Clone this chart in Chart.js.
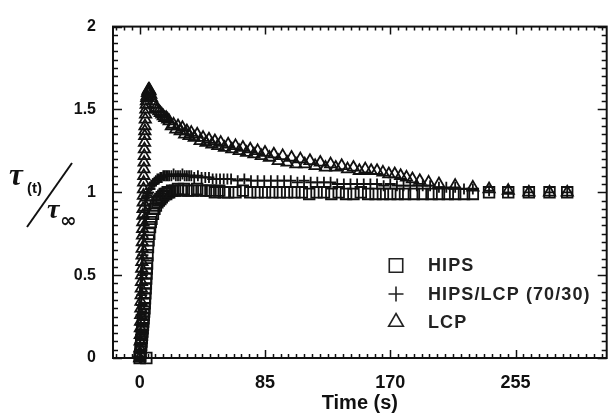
<!DOCTYPE html>
<html>
<head>
<meta charset="utf-8">
<script src="https://cdn.jsdelivr.net/npm/chart.js@4.4.1/dist/chart.umd.min.js"></script>
<style>
  html, body { margin: 0; padding: 0; background: #fff; }
</style>
</head>
<body>
<canvas id="chart" width="616" height="415"></canvas>
<script>
// series names
const seriesNames = ['HIPS', 'HIPS/LCP (70/30)', 'LCP'];

// HIPS (squares)
const tHIPS = [0, 4.5, 0.2, 0.4, 0.6, 0.8, 1.0, 1.2, 1.4, 1.6, 1.8, 2.0, 2.2, 2.4, 2.6, 2.8, 3.0, 3.2, 3.4, 3.6, 3.8, 4.0, 4.2, 4.4, 4.6, 4.8, 5.0,
  5.3, 5.6, 6.0, 6.5, 7.0, 7.5, 8.0,
  9, 10, 11, 12, 13, 14, 15, 16, 17, 18, 19, 20,
  22, 24, 26, 28, 30,
  33, 36, 39, 42, 45, 48, 51, 54, 57, 60,
  65, 70, 75, 80, 85, 90, 95, 100, 105, 110, 115, 120, 125, 130, 135, 140, 145, 150, 155, 160, 165, 170, 175, 180,
  186, 192, 198, 203, 209, 214, 220, 226,
  237, 250, 264, 278, 290];
const vHIPS = [0, 0, 0.01, 0.02, 0.04, 0.06, 0.08, 0.1, 0.12, 0.14, 0.16, 0.18, 0.2, 0.22, 0.24, 0.26, 0.28, 0.3, 0.33, 0.36, 0.39, 0.42, 0.45, 0.48, 0.51, 0.54, 0.57,
  0.62, 0.67, 0.71, 0.75, 0.79, 0.82, 0.84,
  0.87, 0.9, 0.92, 0.94, 0.95, 0.96, 0.97, 0.98, 0.99, 0.99, 1.0, 1.0,
  1.01, 1.01, 1.02, 1.01, 1.02,
  1.01, 1.01, 1.02, 1.01, 1.01, 1.01, 1.0, 1.01, 1.0, 1.0,
  1.0, 1.01, 1.0, 1.0, 1.0, 1.0, 1.0, 1.0, 1.0, 1.0, 0.99, 1.0, 1.0, 0.99, 1.0, 0.99, 0.99, 1.0, 0.99, 0.99, 0.99, 0.99, 0.99, 0.99,
  0.99, 0.99, 0.99, 0.99, 0.99, 0.99, 0.99, 0.99,
  1.0, 1.0, 1.0, 1.0, 1.0];

// HIPS/LCP 70/30 (plus)
const tMix = [0, 0.2, 0.4, 0.6, 0.8, 1.0, 1.2, 1.4, 1.6, 1.8, 2.0, 2.2, 2.4, 2.6, 2.8, 3.0,
  3.3, 3.6, 4.0, 4.5, 5.0, 5.5, 6.0,
  7, 8, 9, 10, 11, 12, 13, 14, 15, 16, 17, 18, 19, 20,
  21.5, 23, 24.5, 26, 27.5, 29, 30.5, 32, 33.5, 35,
  37, 39.5, 42, 44.5, 47, 49.5, 52, 54.5, 57, 59.5, 62,
  66.5, 71, 75.5, 80, 84.5, 89, 93.5, 98, 102.5, 107, 111.5, 116, 120.5, 125, 129.5,
  134, 138.5, 143, 147.5, 152, 156.5, 161, 165.5, 170, 174.5, 179, 183.5, 188,
  192, 197, 203, 208, 214, 220, 226,
  237, 250, 264, 278, 290];
const vMix = [0, 0.04, 0.09, 0.14, 0.2, 0.26, 0.32, 0.38, 0.44, 0.5, 0.56, 0.62, 0.68, 0.74, 0.8, 0.85,
  0.89, 0.92, 0.95, 0.97, 0.98, 0.99, 1.0,
  1.02, 1.04, 1.05, 1.06, 1.07, 1.08, 1.08, 1.09, 1.09, 1.1, 1.1, 1.1, 1.1, 1.1,
  1.1, 1.11, 1.1, 1.1, 1.1, 1.11, 1.1, 1.1, 1.1, 1.1,
  1.09, 1.1, 1.09, 1.09, 1.09, 1.08, 1.08, 1.08, 1.08, 1.08, 1.08,
  1.07, 1.08, 1.07, 1.07, 1.07, 1.07, 1.07, 1.07, 1.07, 1.06, 1.07, 1.06, 1.06, 1.06, 1.06,
  1.05, 1.05, 1.05, 1.05, 1.05, 1.05, 1.05, 1.04, 1.05, 1.04, 1.04, 1.04, 1.04,
  1.04, 1.04, 1.03, 1.03, 1.03, 1.02, 1.02,
  1.01, 1.0, 1.0, 1.0, 1.0];

// LCP (triangles)
const tLCP = [0, 0.1, 0.2, 0.3, 0.4, 0.5, 0.6, 0.7, 0.8, 0.9, 1.0, 1.1, 1.2, 1.3, 1.4, 1.5, 1.6, 1.7, 1.8, 1.9,
  2.0, 2.1, 2.2, 2.3, 2.4, 2.5, 2.6, 2.7, 2.8, 2.9, 3.0, 3.1, 3.2, 3.3, 3.4, 3.5, 3.6,
  3.8, 4.0, 4.2, 4.4, 4.6, 4.8, 5.0,
  5.3, 5.6, 6.0, 6.5, 7.0, 7.5, 8,
  9, 10, 11, 12, 13, 14, 15, 16, 17, 18, 19,
  20, 21.5, 23, 24.5, 26, 27.5, 29, 30.5, 32, 33.5, 35,
  37, 39, 41, 43, 45, 47, 49, 51, 53, 55,
  57.5, 60, 62.5, 65, 67.5, 70, 72.5, 75, 77.5, 80, 82.5, 85,
  88, 91, 94, 97, 100, 103, 106, 109, 112,
  115.5, 119, 122.5, 126, 129.5, 133,
  137, 141, 145, 149, 153, 157, 161, 165, 169, 173, 177, 181, 185,
  190, 196, 203, 214, 226, 237, 250, 264, 278, 290];
const vLCP = [0.0, 0.03, 0.06, 0.1, 0.14, 0.18, 0.22, 0.26, 0.3, 0.34, 0.38, 0.42, 0.46, 0.5, 0.54, 0.58, 0.62, 0.66, 0.7, 0.74,
  0.78, 0.82, 0.86, 0.9, 0.94, 0.98, 1.02, 1.06, 1.1, 1.14, 1.18, 1.22, 1.26, 1.3, 1.34, 1.37, 1.4,
  1.44, 1.47, 1.5, 1.53, 1.55, 1.57, 1.58,
  1.6, 1.61, 1.62, 1.62, 1.61, 1.59, 1.57,
  1.55, 1.53, 1.51, 1.5, 1.49, 1.48, 1.47, 1.46, 1.45, 1.45, 1.44,
  1.43, 1.40, 1.41, 1.38, 1.40, 1.37, 1.39, 1.35, 1.37, 1.34, 1.36,
  1.33, 1.35, 1.31, 1.33, 1.30, 1.32, 1.29, 1.31, 1.28, 1.30,
  1.27, 1.29, 1.26, 1.28, 1.25, 1.27, 1.24, 1.26, 1.23, 1.25, 1.22, 1.24,
  1.21, 1.23, 1.19, 1.22, 1.18, 1.21, 1.17, 1.2, 1.17,
  1.19, 1.16, 1.18, 1.15, 1.17, 1.15,
  1.16, 1.14, 1.15, 1.13, 1.14, 1.13, 1.13, 1.12, 1.11, 1.11, 1.1, 1.09, 1.08,
  1.07, 1.06, 1.05, 1.04, 1.03, 1.02, 1.01, 1.0, 1.0, 1.0];

const xTickLabels = [0, 85, 170, 255];
const yTickLabels = [0, 0.5, 1, 1.5, 2];

function toPoints(ts, vs, name) {
  if (ts.length !== vs.length) throw new Error(name + ' length mismatch ' + ts.length + ' vs ' + vs.length);
  return ts.map((t, i) => ({ x: t, y: vs[i] }));
}

const ink = '#111';

const frameTicks = {
  id: 'frameTicks',
  afterDatasetsDraw(chart) {
    const { ctx, chartArea: a, scales: { x, y } } = chart;
    ctx.save();
    ctx.strokeStyle = ink;
    ctx.lineWidth = 1.5;
    ctx.beginPath();
    const xStep = 85 / 16;
    for (let i = -4; i <= 64; i++) {
      const v = i * xStep;
      if (v < x.min || v > x.max) continue;
      const px = Math.round(x.getPixelForValue(v)) + 0.5;
      const len = i % 16 === 0 ? 8 : 4;
      ctx.moveTo(px, a.bottom); ctx.lineTo(px, a.bottom - len);
      ctx.moveTo(px, a.top); ctx.lineTo(px, a.top + len);
    }
    for (let i = 0; i <= 40; i++) {
      const py = Math.round(y.getPixelForValue(i * 0.05)) + 0.5;
      const len = i % 10 === 0 ? 9 : 5;
      ctx.moveTo(a.left, py); ctx.lineTo(a.left + len, py);
      ctx.moveTo(a.right, py); ctx.lineTo(a.right - len, py);
    }
    ctx.stroke();
    ctx.lineWidth = 2;
    ctx.strokeRect(a.left, a.top, a.right - a.left, a.bottom - a.top);
    ctx.restore();
  },
  afterDraw(chart) {
    const ctx = chart.ctx;
    ctx.save();
    // legend
    const styles = [
      { pointStyle: 'rect', radius: 9.5 },
      { pointStyle: 'cross', radius: 7.5 },
      { pointStyle: 'triangle', radius: 8.5 }
    ];
    const rows = [265.5, 294, 322];
    ctx.strokeStyle = '#222';
    ctx.fillStyle = 'rgba(0,0,0,0)';
    ctx.lineWidth = 1.6;
    styles.forEach((s, i) => {
      ctx.beginPath();
      Chart.helpers.drawPoint(ctx, { pointStyle: s.pointStyle, radius: s.radius, rotation: 0, borderWidth: 1.6 }, 396, rows[i]);
    });
    ctx.fillStyle = '#222';
    ctx.font = "bold 18px 'Liberation Sans', Arial, sans-serif";
    ctx.letterSpacing = '1.1px';
    ctx.textBaseline = 'middle';
    ctx.textAlign = 'left';
    seriesNames.forEach((n, i) => ctx.fillText(n, 428, rows[i] + 1));
    ctx.letterSpacing = '0px';

    // y axis title: tau(t) / tau_inf
    ctx.fillStyle = ink;
    ctx.textBaseline = 'alphabetic';
    ctx.font = "italic bold 31px 'Liberation Serif', serif";
    ctx.fillText('\u03C4', 9, 185);
    ctx.font = "bold 15px 'Liberation Sans', Arial, sans-serif";
    ctx.fillText('(t)', 27, 193);
    ctx.font = "italic bold 28px 'Liberation Serif', serif";
    ctx.fillText('\u03C4', 47, 218);
    ctx.font = "bold 20px 'DejaVu Sans', sans-serif";
    ctx.fillText('\u221E', 60, 227);
    ctx.strokeStyle = ink;
    ctx.lineWidth = 2;
    ctx.beginPath();
    ctx.moveTo(27, 227);
    ctx.lineTo(72, 163);
    ctx.stroke();
    ctx.restore();
  }
};

const markerBase = {
  showLine: false,
  borderColor: ink,
  backgroundColor: 'rgba(0,0,0,0)',
  pointBorderWidth: 1.8,
  clip: false
};

new Chart(document.getElementById('chart').getContext('2d'), {
  type: 'scatter',
  data: {
    datasets: [
      Object.assign({ label: seriesNames[0], data: toPoints(tHIPS, vHIPS, 'HIPS'), pointStyle: 'rect', pointRadius: 7.5 }, markerBase),
      Object.assign({ label: seriesNames[1], data: toPoints(tMix, vMix, 'Mix'), pointStyle: 'cross', pointRadius: 5.5 }, markerBase),
      Object.assign({ label: seriesNames[2], data: toPoints(tLCP, vLCP, 'LCP'), pointStyle: 'triangle', pointRadius: 6.5 }, markerBase)
    ]
  },
  options: {
    responsive: false,
    animation: false,
    layout: { padding: { top: 20, right: 4, left: 0, bottom: 0 } },
    plugins: { legend: { display: false }, tooltip: { enabled: false } },
    scales: {
      x: {
        type: 'linear',
        min: -18.1,
        max: 316.8,
        afterBuildTicks: s => { s.ticks = xTickLabels.map(v => ({ value: v })); },
        afterFit: s => { s.height = 57; },
        grid: { display: false, drawTicks: false },
        border: { display: false },
        ticks: {
          padding: 14, color: ink, maxRotation: 0, autoSkip: false,
          font: { family: "'Liberation Sans', Arial, sans-serif", size: 18, weight: 'bold' },
          callback: v => String(v)
        },
        title: {
          display: true, text: 'Time (s)', color: ink,
          font: { family: "'Liberation Sans', Arial, sans-serif", size: 20, weight: 'bold' },
          padding: { top: 0, bottom: 0 }
        }
      },
      y: {
        type: 'linear',
        min: 0,
        max: 2,
        afterBuildTicks: s => { s.ticks = yTickLabels.map(v => ({ value: v })); },
        afterFit: s => { s.width = 113; },
        grid: { display: false, drawTicks: false },
        border: { display: false },
        ticks: {
          padding: 17, color: ink, autoSkip: false,
          font: { family: "'Liberation Sans', Arial, sans-serif", size: 16, weight: 'bold' },
          callback: v => String(v)
        }
      }
    }
  },
  plugins: [frameTicks]
});
</script>
</body>
</html>
